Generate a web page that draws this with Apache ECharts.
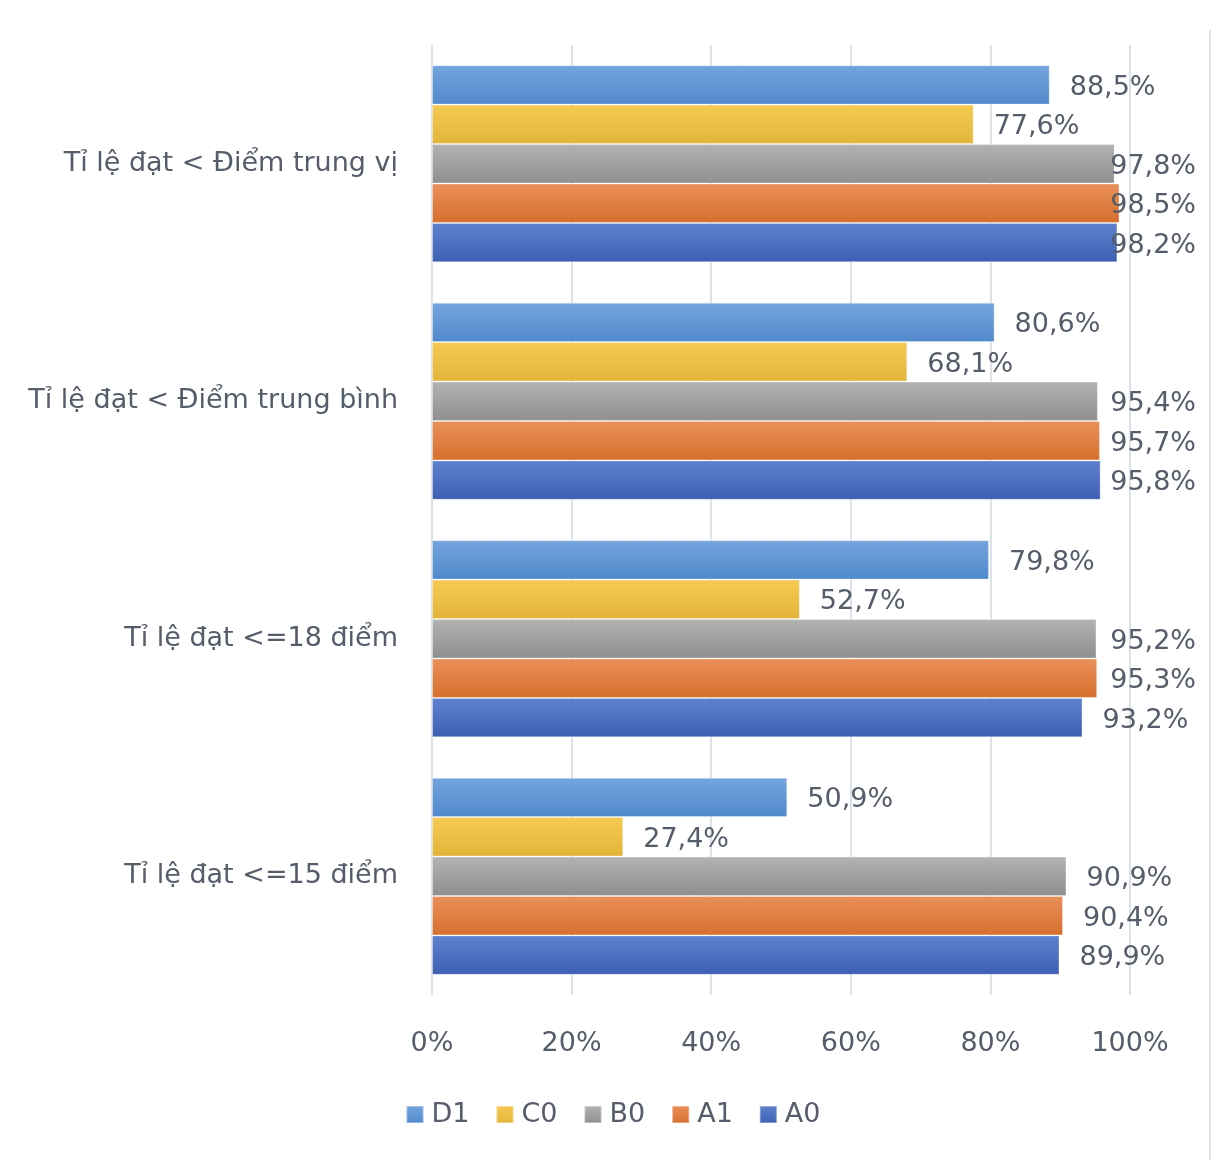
<!DOCTYPE html>
<html>
<head>
<meta charset="utf-8">
<script src="https://cdn.jsdelivr.net/npm/echarts@6/dist/echarts.min.js"></script>
<style>
html,body{margin:0;padding:0;background:#fff;}
#chart{width:1226px;height:1168px;}
</style>
</head>
<body>
<div id="chart"></div>
<script>
// Categories, top to bottom
var categories = ['Tỉ lệ đạt < Điểm trung vị', 'Tỉ lệ đạt < Điểm trung bình', 'Tỉ lệ đạt <=18 điểm', 'Tỉ lệ đạt <=15 điểm'];
var seriesNames = ['D1', 'C0', 'B0', 'A1', 'A0'];
var D1 = [88.5, 80.6, 79.8, 50.9];
var C0 = [77.6, 68.1, 52.7, 27.4];
var B0 = [97.8, 95.4, 95.2, 90.9];
var A1 = [98.5, 95.7, 95.3, 90.4];
var A0 = [98.2, 95.8, 93.2, 89.9];
var xTicks = [0, 20, 40, 60, 80, 100];

var values = [D1, C0, B0, A1, A0];
var colors = [
  ['#74a5de', '#5089cc'],
  ['#f6ca52', '#e2b43a'],
  ['#b3b3b3', '#8f8f8f'],
  ['#ea905a', '#d66f2d'],
  ['#5f82cf', '#3d5fb3']
];
var solid = ['#5b9bd5', '#f2c23c', '#a5a5a5', '#e57d3c', '#4668c0'];
var FONT = 'DejaVu Sans';
var FS = 27;
var TXT = '#555c6a';

function grad(c) {
  return new echarts.graphic.LinearGradient(0, 0, 0, 1, [
    {offset: 0, color: c[0]}, {offset: 1, color: c[1]}
  ]);
}
function fmt(v) { return v.toFixed(1).replace('.', ',') + '%'; }

var chart = echarts.init(document.getElementById('chart'));

function buildSeries(offsets) {
  return seriesNames.map(function (name, si) {
    return {
      name: name,
      type: 'bar',
      barGap: '0%',
      barCategoryGap: '17%',
      itemStyle: {color: grad(colors[si]), borderColor: 'rgba(255,255,255,0.35)', borderWidth: 1},
      label: {
        show: true,
        position: 'right',
        distance: 20,
        fontFamily: FONT,
        fontSize: FS,
        color: TXT,
        formatter: function (p) { return fmt(p.value); }
      },
      data: values[si].map(function (v, i) {
        var item = {value: v};
        if (offsets) item.label = {offset: [offsets[si][i], 3]};
        return item;
      })
    };
  });
}

var option = {
  backgroundColor: '#fff',
  animation: false,
  color: solid,
  grid: {left: 432, right: 96, top: 45, bottom: 173},
  legend: {
    bottom: 35,
    left: 'center',
    itemWidth: 17,
    itemHeight: 17,
    itemGap: 26,
    icon: 'rect',
    textStyle: {fontFamily: FONT, fontSize: FS, color: TXT, padding: [0, 0, 0, 3]},
    data: seriesNames.map(function (n, i) { return {name: n, itemStyle: {color: grad(colors[i])}}; })
  },
  xAxis: {
    type: 'value',
    min: 0,
    max: 100,
    interval: 20,
    axisLine: {show: false},
    axisTick: {show: false},
    splitLine: {show: true, lineStyle: {color: '#dde1ea', width: 2}},
    axisLabel: {
      margin: 35,
      fontFamily: FONT,
      fontSize: FS,
      color: TXT,
      formatter: function (v) { return xTicks.indexOf(v) >= 0 ? v + '%' : ''; }
    }
  },
  yAxis: {
    type: 'category',
    inverse: true,
    data: categories,
    axisLine: {show: false},
    axisTick: {show: false},
    axisLabel: {margin: 34, fontFamily: FONT, fontSize: FS, color: TXT}
  },
  graphic: [{
    type: 'line',
    shape: {x1: 1210, y1: 30, x2: 1210, y2: 1160},
    style: {stroke: '#e3e3e3', lineWidth: 2}
  }],
  series: buildSeries(null)
};
chart.setOption(option);

// Keep labels inside the right limit (as the original does)
var ctx = document.createElement('canvas').getContext('2d');
ctx.font = FS + 'px "' + FONT + '"';
var rightLimit = 1196;
var offsets = values.map(function (arr) {
  return arr.map(function (v) {
    var end = chart.convertToPixel({gridIndex: 0}, [v, 0])[0];
    var w = ctx.measureText(fmt(v)).width;
    var over = end + 20 + w - rightLimit;
    return over > 0 ? -over : 0;
  });
});
chart.setOption({series: buildSeries(offsets)});
</script>
</body>
</html>
